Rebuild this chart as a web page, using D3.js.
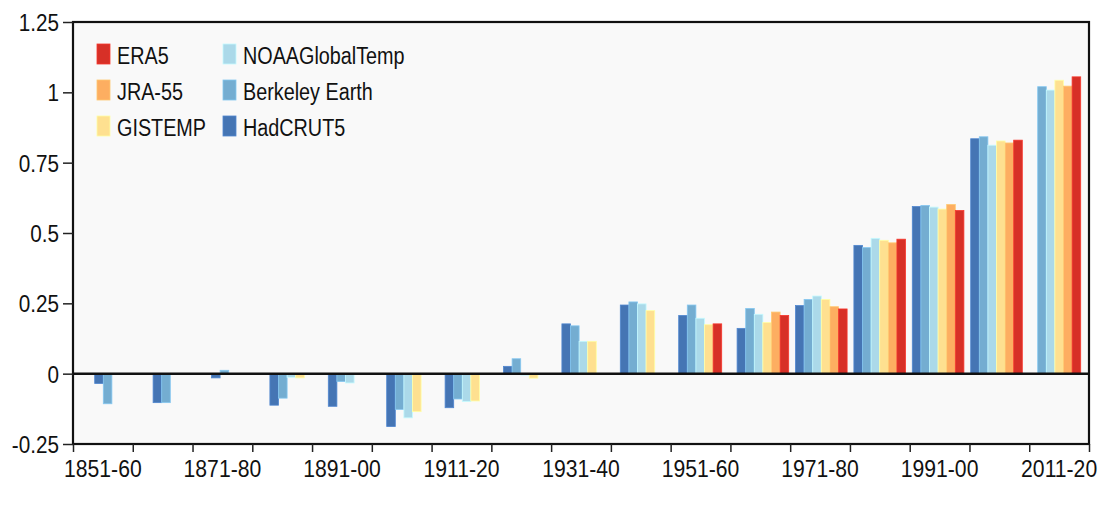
<!DOCTYPE html>
<html>
<head>
<meta charset="utf-8">
<script src="https://cdn.jsdelivr.net/npm/d3@7"></script>
<style>
  body { margin: 0; background: #fff; }
  svg text { font-family: "Liberation Sans", Arial, sans-serif; fill: #111; }
</style>
</head>
<body>
<div id="chart"></div>
<script>
var width = 1106;
var height = 509;

var decades = ['1851-60', '1861-70', '1871-80', '1881-90', '1891-00', '1901-10', '1911-20',
  '1921-30', '1931-40', '1941-50', '1951-60', '1961-70', '1971-80', '1981-90', '1991-00',
  '2001-10', '2011-20'];

var seriesNames = ['HadCRUT5', 'Berkeley Earth', 'NOAAGlobalTemp', 'GISTEMP', 'JRA-55', 'ERA5'];
var seriesColors = ['#4575b4', '#74add1', '#abd9e9', '#fee090', '#fdae61', '#d73027'];

// decadal anomalies, one array per dataset (null = no value)
var hadcrut5 = [-0.035, -0.103, -0.015, -0.112, -0.116, -0.188, -0.121, 0.026, 0.177, 0.244, 0.207, 0.161, 0.242, 0.456, 0.594, 0.835, null];
var berkeley = [-0.107, -0.103, 0.012, -0.087, -0.028, -0.127, -0.090, 0.053, 0.170, 0.255, 0.244, 0.232, 0.264, 0.448, 0.598, 0.842, 1.020];
var noaa = [null, null, null, -0.013, -0.033, -0.157, -0.099, -0.005, 0.115, 0.248, 0.197, 0.211, 0.276, 0.481, 0.592, 0.812, 1.008];
var gistemp = [null, null, null, -0.015, null, -0.135, -0.097, -0.016, 0.115, 0.224, 0.174, 0.182, 0.264, 0.474, 0.585, 0.827, 1.043];
var jra55 = [null, null, null, null, null, null, null, null, null, null, null, 0.219, 0.238, 0.465, 0.601, 0.820, 1.022];
var era5 = [null, null, null, null, null, null, null, null, null, null, 0.177, 0.207, 0.230, 0.478, 0.580, 0.830, 1.055];

var allSeries = [hadcrut5, berkeley, noaa, gistemp, jra55, era5];

var yTicks = [-0.25, 0, 0.25, 0.5, 0.75, 1, 1.25];

// legend layout: two columns, listed top to bottom
var legendCols = [['ERA5', 'JRA-55', 'GISTEMP'], ['NOAAGlobalTemp', 'Berkeley Earth', 'HadCRUT5']];

var plot = { left: 73, right: 1089, top: 22, bottom: 444 };

var svg = d3.select('#chart')
  .append('svg')
  .attr('width', width)
  .attr('height', height);

// squeeze text horizontally so it looks like the narrow original face
function narrow(sel, k) {
  sel.each(function() {
    var w = this.getComputedTextLength();
    d3.select(this)
      .attr('textLength', w * k)
      .attr('lengthAdjust', 'spacingAndGlyphs');
  });
}

var y = d3.scaleLinear()
  .domain([-0.25, 1.25])
  .range([plot.bottom, plot.top]);

// axis bands (tick marks sit on decade boundaries)
var xAxisBand = d3.scaleBand()
  .domain(decades)
  .range([plot.left, plot.right]);

var xEdges = d3.scaleLinear()
  .domain([0, decades.length])
  .range([plot.left, plot.right]);

// bar groups
var xGroup = d3.scaleBand()
  .domain(decades)
  .range([94.7, 1080.7])
  .paddingInner(0.1164);

var xSlot = d3.scaleBand()
  .domain(d3.range(seriesNames.length))
  .range([0, xGroup.bandwidth()]);

// plot background
svg.append('rect')
  .attr('x', plot.left)
  .attr('y', plot.top)
  .attr('width', plot.right - plot.left)
  .attr('height', plot.bottom - plot.top)
  .style('fill', '#f9f9f9');

// build bars: present values packed next to each other from the first present slot
var bars = [];
decades.forEach(function(dec, i) {
  var first = -1;
  var rank = 0;
  allSeries.forEach(function(vals, s) {
    var v = vals[i];
    if (v === null) return;
    if (first < 0) first = s;
    bars.push({ decade: dec, series: s, value: v, slot: first + rank });
    rank++;
  });
});

svg.append('g')
  .selectAll('rect')
  .data(bars)
  .enter()
  .append('rect')
  .attr('x', function(d) { return xGroup(d.decade) + xSlot(d.slot); })
  .attr('width', xSlot.bandwidth())
  .attr('y', function(d) { return y(Math.max(0, d.value)); })
  .attr('height', function(d) { return Math.abs(y(d.value) - y(0)); })
  .style('fill', function(d) { return seriesColors[d.series]; })
  .style('stroke', function(d) { return d3.color(seriesColors[d.series]).brighter(0.4); })
  .style('stroke-width', 0.8);

// zero line
svg.append('line')
  .attr('x1', plot.left)
  .attr('x2', plot.right)
  .attr('y1', y(0))
  .attr('y2', y(0))
  .style('stroke', '#111')
  .style('stroke-width', 2.5);

// frame
svg.append('rect')
  .attr('x', plot.left)
  .attr('y', plot.top)
  .attr('width', plot.right - plot.left)
  .attr('height', plot.bottom - plot.top)
  .style('fill', 'none')
  .style('stroke', '#111')
  .style('stroke-width', 2.2);

// y axis
var yAxis = svg.append('g')
  .attr('transform', 'translate(' + plot.left + ',0)')
  .call(d3.axisLeft(y)
    .tickValues(yTicks)
    .tickSize(10)
    .tickPadding(4)
    .tickFormat(function(d) { return String(d); }));
yAxis.select('.domain').remove();
yAxis.selectAll('line').style('stroke', '#222').style('stroke-width', 1.5);
yAxis.selectAll('text')
  .attr('dy', '0.36em')
  .style('font-size', '23.5px')
  .style('fill', '#111')
  .call(narrow, 0.88);

// x tick marks on boundaries
var xTicks = svg.append('g')
  .attr('transform', 'translate(0,' + plot.bottom + ')')
  .call(d3.axisBottom(xEdges)
    .tickValues(d3.range(decades.length + 1))
    .tickSize(8)
    .tickFormat(''));
xTicks.select('.domain').remove();
xTicks.selectAll('line').style('stroke', '#222').style('stroke-width', 1.5);

// x labels every other decade
var xLabels = svg.append('g')
  .attr('transform', 'translate(0,' + plot.bottom + ')')
  .call(d3.axisBottom(xAxisBand)
    .tickValues(decades.filter(function(d, i) { return i % 2 === 0; }))
    .tickSize(0)
    .tickPadding(16));
xLabels.select('.domain').remove();
xLabels.selectAll('text')
  .style('font-size', '23.5px')
  .style('fill', '#111')
  .call(narrow, 0.9);

// legend
var legend = svg.append('g');
legendCols.forEach(function(col, c) {
  col.forEach(function(name, r) {
    var s = seriesNames.indexOf(name);
    var gx = 97 + c * 126;
    var gy = 64 + r * 36;
    legend.append('rect')
      .attr('x', gx)
      .attr('y', gy - 20)
      .attr('width', 13)
      .attr('height', 20)
      .style('fill', seriesColors[s])
      .style('stroke', d3.color(seriesColors[s]).brighter(0.4))
      .style('stroke-width', 0.8);
    legend.append('text')
      .attr('x', gx + 20)
      .attr('y', gy)
      .style('font-size', '23px')
      .text(name)
      .call(narrow, 0.86);
  });
});
</script>
</body>
</html>
